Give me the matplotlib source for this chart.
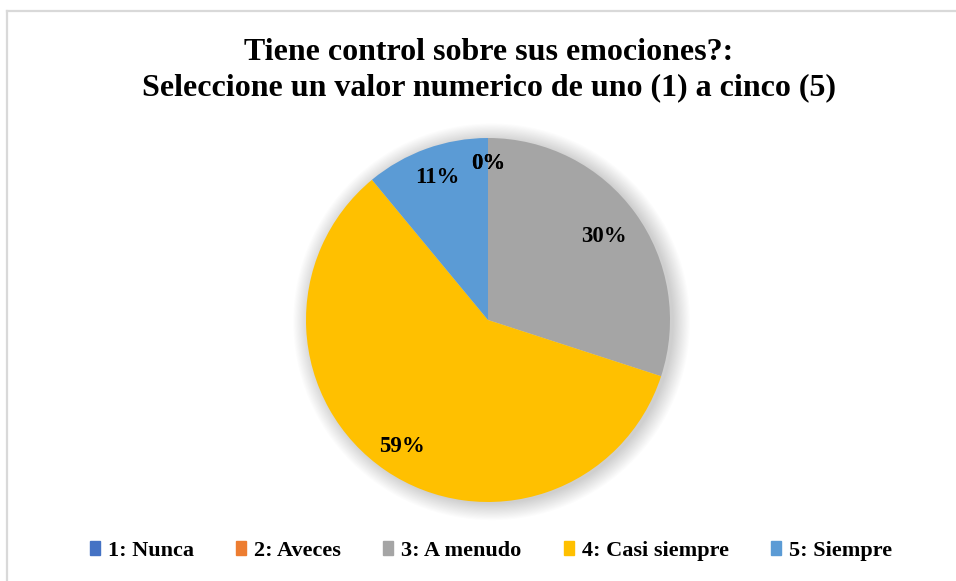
import matplotlib
matplotlib.use("Agg")
import matplotlib.pyplot as plt
import numpy as np
from matplotlib.patches import Circle, Rectangle
from matplotlib.lines import Line2D

categories = ["1: Nunca", "2: Aveces", "3: A menudo", "4: Casi siempre", "5: Siempre"]
values = [0, 0, 30, 59, 11]
colors = ["#4472C4", "#ED7D31", "#A5A5A5", "#FFC000", "#5B9BD5"]
title = "Tiene control sobre sus emociones?:\nSeleccione un valor numerico de uno (1) a cinco (5)"

W, H = 956, 581
fig = plt.figure(figsize=(W / 100, H / 100), dpi=100)
font = "Liberation Serif"

# chart border (top and left light gray lines)
fig.add_artist(Line2D([6.5 / W, 1.0], [1 - 10.5 / H, 1 - 10.5 / H], color="#d9d9d9", lw=1.6,
                      transform=fig.transFigure))
fig.add_artist(Line2D([6.5 / W, 6.5 / W], [0, 1 - 10.5 / H], color="#d9d9d9", lw=1.6,
                      transform=fig.transFigure))

cx, cy, r = 488, 320, 182
m = 1.12
ax = fig.add_axes([(cx - m * r) / W, (H - cy - m * r) / H, 2 * m * r / W, 2 * m * r / H])
ax.set_xlim(-m, m)
ax.set_ylim(-m, m)
ax.set_aspect("equal")
ax.axis("off")

# soft shadow
for k in range(16):
    ax.add_patch(Circle((0.02, -0.01), 1.0 + k * 0.006, color="black",
                        alpha=0.011, lw=0, zorder=0))

wedges, _ = ax.pie(values, colors=colors, startangle=90, counterclock=False,
                   radius=1.0, wedgeprops=dict(linewidth=0))
for w in wedges:
    w.set_zorder(2)
ax.set_xlim(-m, m)
ax.set_ylim(-m, m)

dists = [0.86, 0.86, 0.785, 0.84, 0.83]
total = sum(values)
for w, v, d in zip(wedges, values, dists):
    th = np.deg2rad((w.theta1 + w.theta2) / 2)
    ax.text(d * np.cos(th), d * np.sin(th), f"{round(100 * v / total)}%",
            ha="center", va="center", fontsize=16.5, fontweight="bold",
            family=font, color="#000000", zorder=5)

fig.text(489 / W, 1 - 70 / H, title, ha="center", va="center", fontsize=23,
         fontweight="bold", family=font, linespacing=1.3)

handles = [Rectangle((0, 0), 1, 1, color=c) for c in colors]
leg = fig.legend(handles, categories, loc="center", bbox_to_anchor=(491 / W, 1 - 551 / H),
                 ncol=5, frameon=False, handlelength=0.45, handleheight=0.6,
                 handletextpad=0.36, columnspacing=1.9,
                 prop=dict(family=font, weight="bold", size=16))

fig.savefig("out.png", dpi=100, facecolor="white")
